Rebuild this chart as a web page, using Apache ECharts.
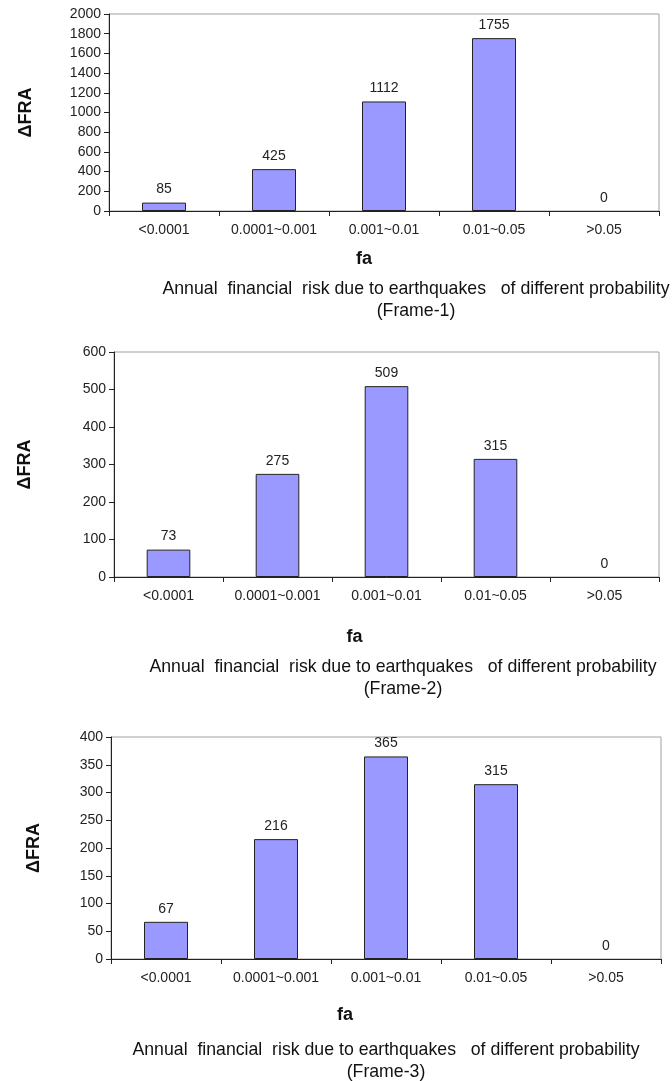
<!DOCTYPE html>
<html>
<head>
<meta charset="utf-8">
<script src="https://cdn.jsdelivr.net/npm/echarts@6/dist/echarts.min.js"></script>
<style>
html,body{margin:0;padding:0;background:#fff;}
#chart{width:672px;height:1081px;}
</style>
</head>
<body>
<div id="chart"></div>
<script>
var categories = ['<0.0001', '0.0001~0.001', '0.001~0.01', '0.01~0.05', '>0.05'];
var frame1 = [85, 425, 1112, 1755, 0];
var frame2 = [73, 275, 509, 315, 0];
var frame3 = [67, 216, 365, 315, 0];
var yMax = [2000, 600, 400];
var yStep = [200, 100, 50];
var captions = [
  'Annual  financial  risk due to earthquakes   of different probability\n(Frame-1)',
  'Annual  financial  risk due to earthquakes   of different probability\n(Frame-2)',
  'Annual  financial  risk due to earthquakes   of different probability\n(Frame-3)'
];
var yName = '\u0394FRA';
var xName = 'fa';

var FONT = '"Liberation Sans", Arial, sans-serif';
var chart = echarts.init(document.getElementById('chart'), null, {renderer: 'canvas'});

var grids = [
  {left: 109, top: 14, width: 550, height: 197},
  {left: 114, top: 352, width: 545, height: 225},
  {left: 111, top: 737, width: 550, height: 222}
];
var yNameGap = [74, 80, 68];
var xNameGap = [39, 51, 47];
var xNameShift = [40, 64, 82];
var captionPos = [{x: 411, y: 273}, {x: 398, y: 651}, {x: 381, y: 1034}];
var series = [frame1, frame2, frame3];

var option = {
  animation: false,
  backgroundColor: '#fff',
  textStyle: {fontFamily: FONT},
  title: captions.map(function (c, i) {
    return {
      text: c,
      left: captionPos[i].x,
      top: captionPos[i].y,
      textAlign: 'center',
      textStyle: {fontFamily: FONT, fontSize: 17.7, fontWeight: 'normal', color: '#111', lineHeight: 22}
    };
  }),
  grid: grids.map(function (g) {
    return Object.assign({show: true, borderColor: '#a0a0a0', borderWidth: 1, backgroundColor: 'transparent'}, g);
  }),
  xAxis: grids.map(function (g, i) {
    return {
      type: 'category',
      gridIndex: i,
      data: categories,
      name: xName,
      nameLocation: 'middle',
      nameGap: xNameGap[i],
      nameTextStyle: {fontFamily: FONT, fontSize: 18, fontWeight: 'bold', color: '#111', padding: [0, xNameShift[i], 0, 0]},
      axisLine: {lineStyle: {color: '#222', width: 1}},
      axisTick: {show: true, length: 5, lineStyle: {color: '#222'}},
      axisLabel: {fontFamily: FONT, fontSize: 14, color: '#222', margin: 12, interval: 0}
    };
  }),
  yAxis: grids.map(function (g, i) {
    return {
      type: 'value',
      gridIndex: i,
      min: 0,
      max: yMax[i],
      interval: yStep[i],
      name: yName,
      nameLocation: 'middle',
      nameRotate: 90,
      nameGap: yNameGap[i],
      nameTextStyle: {fontFamily: FONT, fontSize: 18, fontWeight: 'bold', color: '#111'},
      axisLine: {show: true, lineStyle: {color: '#222', width: 1}},
      axisTick: {show: true, length: 5, lineStyle: {color: '#222'}},
      splitLine: {show: false},
      axisLabel: {fontFamily: FONT, fontSize: 14, color: '#222', margin: 8, formatter: function (v) { return String(v); }}
    };
  }),
  series: series.map(function (d, i) {
    return {
      type: 'bar',
      xAxisIndex: i,
      yAxisIndex: i,
      data: d.map(function (v) {
        return v === 0 ? {value: v, itemStyle: {borderWidth: 0}} : v;
      }),
      barWidth: '40%',
      itemStyle: {color: '#9999ff', borderColor: '#222', borderWidth: 1},
      label: {show: true, position: 'top', distance: 6, fontFamily: FONT, fontSize: 14, color: '#222'}
    };
  })
};
chart.setOption(option);
</script>
</body>
</html>
